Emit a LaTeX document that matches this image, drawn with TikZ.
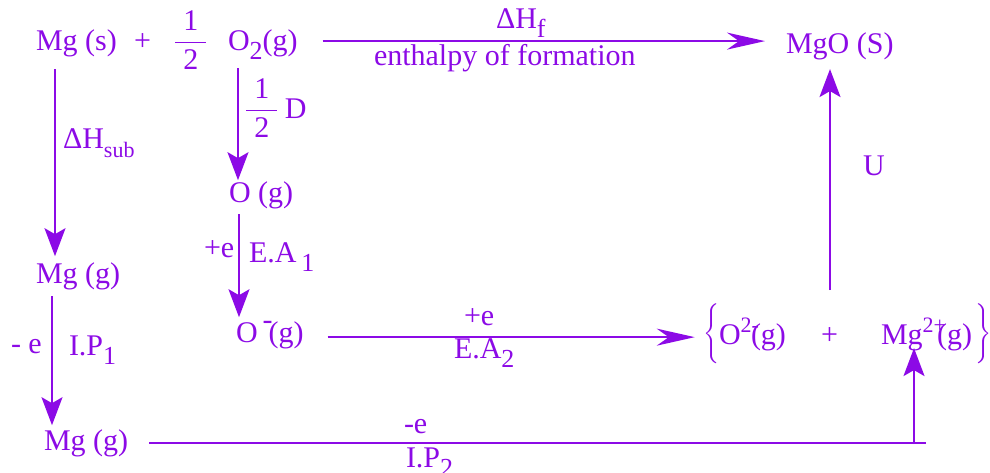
\documentclass[tikz,border=0pt]{standalone}
\usepackage{amsmath}
\usepackage{fontspec}
\setmainfont{Liberation Serif}
\usepackage{tikz}
\usetikzlibrary{arrows.meta}
\definecolor{bornviolet}{RGB}{140,10,230}
\newcommand\lo[2][13]{\raisebox{-4.5pt}{\fontsize{#1}{#1}\selectfont #2}}
\newcommand\hi[2][11]{\raisebox{6pt}{\fontsize{#1}{#1}\selectfont #2}}
\newcommand\halfof{$\dfrac{\;\textrm{1}\;}{\;\textrm{2}\;}$}

\begin{document}
\begin{tikzpicture}[x=0.5pt,y=-0.5pt,color=bornviolet,line width=1pt,
  sp/.style={anchor=base west,inner sep=0pt,font=\fontsize{15}{18}\selectfont},
  vstep/.style={-{Stealth[length=14pt,width=10.5pt,inset=3pt]}},
  hstep/.style={-{Stealth[length=19pt,width=8.5pt,inset=6pt]}}]
\useasboundingbox (0,0) rectangle (990,472);
% species
\node[sp] (mgs) at (35,50) {Mg (s)};
\node[sp] (plus1) at (133,50) {+};
\node[sp] (half) at (172,50) {\halfof};
\node[sp] (o2g) at (227,50) {O\lo{2}(g)};
\node[sp] (mgos) at (785,53) {MgO (S)};
\node[sp] (og) at (228,202) {O (g)};
\node[sp] (mgg1) at (35,283) {Mg (g)};
\node[sp] (ominus) at (235,342) {O\,\raisebox{6.5pt}{-}\kern-2pt(g)};
\node[sp] (mgg2) at (43,450) {Mg (g)};
\node[sp] (o2m) at (718,344) {O\hi{2-}\kern-4pt(g)};
\node[sp] (plus2) at (820,344) {+};
\node[sp] (mg2p) at (880,344) {Mg\hi{2+}\kern-4.5pt(g)};
\node[inner sep=0pt] (lbr) at (713,334) {$\left\{\vrule height 13pt depth 13pt width 0pt\right.$};
\node[inner sep=0pt] (rbr) at (982,334) {$\left.\vrule height 13pt depth 13pt width 0pt\right\}$};
% labels
\node[sp] (hf) at (495,28) {ΔH\lo{f}};
\node[sp] (enth) at (373,65) {enthalpy of formation};
\node[sp] (hsub) at (62,148) {ΔH\lo[11]{sub}};
\node[sp] (halfd) at (243,118) {\halfof\,D};
\node[sp] (u) at (862,175) {U};
\foreach \n/\x/\y/\t in {pe1/203/257/{+e},me1/10/353/{- e},pe2/463/325/{+e},me2/403/433/{-e}}
   \node[sp] (\n) at (\x,\y) {\t};
\node[sp] (ea1) at (248,262) {E.A\,\lo{1}};
\node[sp] (ip1) at (68,355) {I.P\lo{1}};
\node[sp] (ea2) at (453,358) {E.A\lo{2}};
\node[sp] (ip2) at (405,467) {I.P\lo{2}};
% cycle
\coordinate (ipend) at (926,444);
\coordinate (ipturn) at (914,444);
\coordinate (ubase) at (830,290);
\draw[hstep,shorten <=12pt,shorten >=10pt] ([yshift=1.5pt]o2g.east) -- ([yshift=1.5pt]o2g.east -| mgos.west);
\draw[vstep,shorten <=5.8pt,shorten >=2.5pt] ([xshift=10pt]mgs.south west) -- ([xshift=10pt]mgs.south west |- mgg1.north);
\draw[vstep,shorten <=4pt] ([xshift=5.5pt]o2g.south west) -- ([xshift=5.5pt]o2g.south west |- og.north);
\draw[vstep,shorten <=2.3pt,shorten >=1.3pt] ([xshift=5.5pt]og.south west) -- ([xshift=5.5pt]og.south west |- ominus.north);
\draw[vstep,shorten <=2.8pt,shorten >=1.5pt] ([xshift=8.5pt]mgg1.south west) -- ([xshift=8.5pt]mgg1.south west |- mgg2.north);
\draw[hstep,shorten <=11.5pt,shorten >=4pt] ([yshift=-1.25pt]ominus.east) -- ([yshift=-1.25pt]ominus.east -| lbr.west);
\draw[shorten <=10pt] (mgg2.east) -- (mgg2.east -| ipend);
\draw[vstep,shorten >=-1.7pt] (ipturn) -- (ipturn |- mg2p.south);
\draw[vstep,shorten >=4.3pt] (ubase) -- (ubase |- mgos.south);
\end{tikzpicture}
\end{document}
